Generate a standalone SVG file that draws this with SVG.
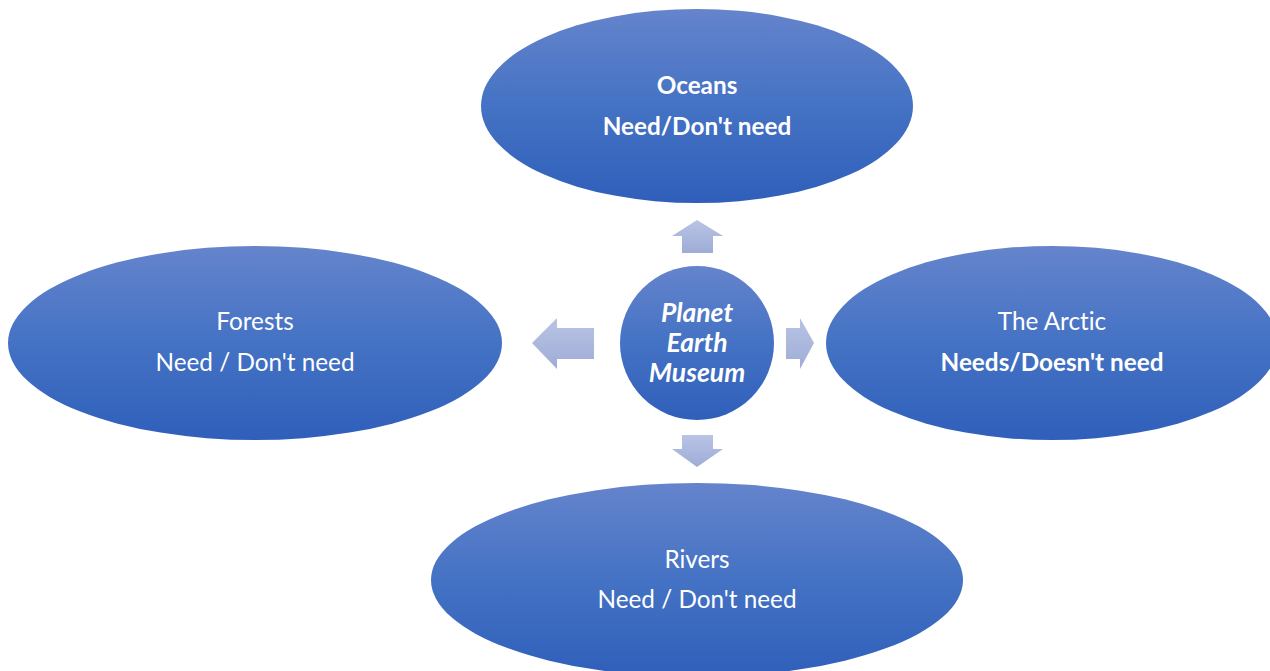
<svg xmlns="http://www.w3.org/2000/svg" width="1270" height="671" viewBox="0 0 1270 671">
<defs>
<linearGradient id="gBlue" x1="0" y1="0" x2="0" y2="1">
<stop offset="0" stop-color="#6584cc"/>
<stop offset="0.5" stop-color="#4472c4"/>
<stop offset="1" stop-color="#2f5fba"/>
</linearGradient>
<linearGradient id="gArrow" x1="0" y1="0" x2="0" y2="1">
<stop offset="0" stop-color="#b9c4e4"/>
<stop offset="1" stop-color="#9eacd6"/>
</linearGradient>
<style>
.node{fill:url(#gBlue);}
.arrow{fill:url(#gArrow);}
text{font-family:Lato,"Open Sans","Liberation Sans",sans-serif;fill:#ffffff;text-anchor:middle;font-size:24.3px;font-variant-ligatures:none;}
.b{font-weight:bold;}
.c{font-weight:bold;font-style:italic;font-size:26.5px;}
</style>
</defs>
<rect width="1270" height="671" fill="#ffffff"/>
<g id="connectors">
<path class="arrow" d="M697,220 L723,236 L713,236 L713,253 L682,253 L682,236 L672,236 Z"/>
<path class="arrow" d="M532,343 L557,318 L557,328 L594,328 L594,359 L557,359 L557,369 Z"/>
<path class="arrow" d="M814,343 L800,318 L800,328 L786,328 L786,359 L800,359 L800,369 Z"/>
<path class="arrow" d="M697,467 L723,449 L713,449 L713,435 L682,435 L682,449 L672,449 Z"/>
</g>
<g id="oceans">
<ellipse class="node" cx="697" cy="106" rx="216" ry="97"/>
<text class="b" x="697" y="94">Oceans</text>
<text class="b" x="697" y="135">Need/Don't need</text>
</g>
<g id="forests">
<ellipse class="node" cx="255" cy="343" rx="247" ry="97"/>
<text x="255" y="330">Forests</text>
<text x="255" y="371">Need / Don't need</text>
</g>
<g id="arctic">
<ellipse class="node" cx="1052" cy="343" rx="226" ry="97"/>
<text x="1052" y="330">The Arctic</text>
<text class="b" x="1052" y="371">Needs/Doesn't need</text>
</g>
<g id="rivers">
<ellipse class="node" cx="697" cy="580" rx="266" ry="97"/>
<text x="697" y="568">Rivers</text>
<text x="697" y="608">Need / Don't need</text>
</g>
<g id="center">
<circle class="node" cx="697" cy="343" r="77"/>
<text class="c" x="697" y="322">Planet</text>
<text class="c" x="697" y="352">Earth</text>
<text class="c" x="697" y="382">Museum</text>
</g>
</svg>
